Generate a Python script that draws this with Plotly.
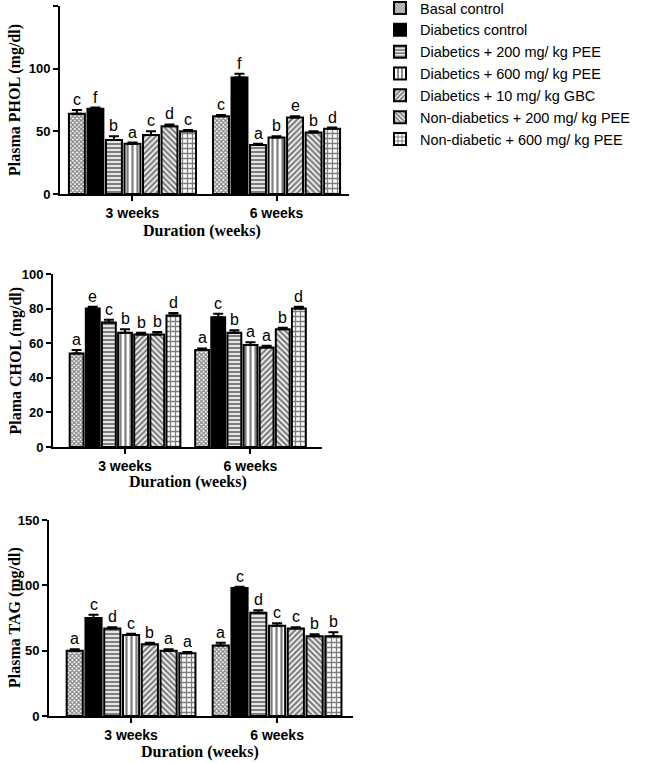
import plotly.graph_objects as go

groups = ["Basal control", "Diabetics control", "Diabetics + 200 mg/ kg PEE",
          "Diabetics + 600 mg/ kg PEE", "Diabetics + 10 mg/ kg GBC",
          "Non-diabetics + 200 mg/ kg PEE", "Non-diabetic + 600 mg/ kg PEE"]
durations = ["3 weeks", "6 weeks"]

# values per group: [3 weeks, 6 weeks]
phol = [[64, 62], [68, 93], [43, 39], [40, 45], [47, 61], [54, 49], [50, 52]]
phol_err = [[3, 1], [1, 3], [3, 1], [1, 1], [3, 1], [1.5, 1], [1, 1]]
phol_sig = [["c", "c"], ["f", "f"], ["b", "a"], ["a", "b"], ["c", "e"], ["d", "b"], ["c", "d"]]

chol = [[54, 56], [80, 75], [72, 66], [66, 59], [65, 57.5], [65, 68], [76, 80]]
chol_err = [[2, 1], [1, 2], [1.5, 1.5], [2, 1.5], [1, 1], [1.5, 1], [1.5, 1]]
chol_sig = [["a", "a"], ["e", "c"], ["c", "b"], ["b", "a"], ["b", "a"], ["b", "b"], ["d", "d"]]

tag = [[50, 54], [75, 98], [67, 79], [62, 69], [55, 67], [50, 61], [48, 61]]
tag_err = [[1, 2], [2.5, 1], [1, 2], [1, 2], [1, 1], [1, 1.5], [1, 3]]
tag_sig = [["a", "a"], ["c", "c"], ["d", "d"], ["c", "c"], ["b", "c"], ["a", "b"], ["a", "b"]]

patterns = [
    dict(shape="x", size=3, solidity=0.6, fgcolor="black", bgcolor="white"),
    None,
    dict(shape="-", size=4, solidity=0.6, fgcolor="black", bgcolor="white"),
    dict(shape="|", size=5, solidity=0.45, fgcolor="black", bgcolor="white"),
    dict(shape="/", size=4, solidity=0.6, fgcolor="black", bgcolor="white"),
    dict(shape="\\", size=4, solidity=0.6, fgcolor="black", bgcolor="white"),
    dict(shape="+", size=5, solidity=0.45, fgcolor="black", bgcolor="white"),
]

W, H = 646, 763
BARGAP, GROUPGAP = 0.1, 0.14
SANS = "Liberation Sans"
SERIF = "Liberation Serif"

panels = [
    dict(vals=phol, err=phol_err, sig=phol_sig, ytitle="Plasma PHOL (mg/dl)",
         px=(60, 349), py=(6, 194), yr=150, dt=50, xr=(-0.503, 1.503), xt=202, xty=231),
    dict(vals=chol, err=chol_err, sig=chol_sig, ytitle="Plama CHOL (mg/dl)",
         px=(53, 322), py=(274, 447), yr=100, dt=20, xr=(-0.574, 1.57), xt=188, xty=482),
    dict(vals=tag, err=tag_err, sig=tag_sig, ytitle="Plasma TAG (mg/dl)",
         px=(49, 353), py=(520, 716), yr=150, dt=50, xr=(-0.562, 1.52), xt=200, xty=752),
]

fig = go.Figure()
annotations = []
slot = (1 - BARGAP) / len(groups)

for p_i, p in enumerate(panels):
    sfx = "" if p_i == 0 else str(p_i + 1)
    for g_i, g in enumerate(groups):
        marker = dict(line=dict(color="black", width=2))
        if patterns[g_i] is None:
            marker["color"] = "black"
        else:
            marker["color"] = "white"
            marker["pattern"] = patterns[g_i]
        fig.add_trace(go.Bar(
            x=[0, 1], y=p["vals"][g_i], name=g, marker=marker,
            xaxis="x" + sfx, yaxis="y" + sfx, showlegend=(p_i == 0),
            error_y=dict(type="data", array=p["err"][g_i], arrayminus=[0, 0],
                         symmetric=False, color="black", thickness=2, width=5),
        ))
        for d in range(2):
            annotations.append(dict(
                x=d + (g_i - 3) * slot, y=p["vals"][g_i][d] + p["err"][g_i][d],
                xref="x" + sfx, yref="y" + sfx, text=p["sig"][g_i][d],
                showarrow=False, yanchor="bottom", yshift=0,
                font=dict(family=SANS, size=16, color="black")))
    fig.layout["xaxis" + sfx] = dict(
        domain=[p["px"][0] / W, p["px"][1] / W], anchor="y" + sfx,
        range=list(p["xr"]), tickvals=[0, 1], ticktext=durations,
        ticks="outside", ticklen=5, tickwidth=2, tickcolor="black",
        showline=True, linecolor="black", linewidth=2, showgrid=False, zeroline=False,
        tickfont=dict(family=SANS, size=14, color="black", weight="bold"))
    fig.layout["yaxis" + sfx] = dict(
        domain=[(H - p["py"][1]) / H, (H - p["py"][0]) / H], anchor="x" + sfx,
        range=[0, p["yr"]], dtick=p["dt"], ticks="outside", ticklen=5, tickwidth=2,
        tickcolor="black", showline=True, linecolor="black", linewidth=2,
        showgrid=False, zeroline=False,
        tickfont=dict(family=SANS, size=13, color="black", weight="bold"))
    annotations.append(dict(
        x=p["xt"] / W, y=(H - p["xty"]) / H, xref="paper", yref="paper",
        text="Duration (weeks)", showarrow=False, xanchor="center", yanchor="middle",
        font=dict(family=SERIF, size=16, color="black", weight="bold")))
    annotations.append(dict(
        x=15 / W, y=(H - (p["py"][0] + p["py"][1]) / 2) / H, xref="paper", yref="paper",
        text=p["ytitle"], textangle=-90, showarrow=False, xanchor="center",
        yanchor="middle",
        font=dict(family=SERIF, size=16, color="black", weight="bold")))

fig.update_layout(
    width=W, height=H, margin=dict(l=0, r=0, t=0, b=0, autoexpand=False),
    paper_bgcolor="white", plot_bgcolor="white",
    barmode="group", bargap=BARGAP, bargroupgap=GROUPGAP,
    annotations=annotations,
    legend=dict(x=380 / W, y=1 + 8 / H, xanchor="left", yanchor="top",
                font=dict(family=SANS, size=14.5, color="black"),
                bgcolor="rgba(0,0,0,0)", tracegroupgap=0),
)

fig.write_html("out.html", config={"displayModeBar": False},
               post_script="document.body.style.margin='0';document.body.style.overflow='hidden';")
